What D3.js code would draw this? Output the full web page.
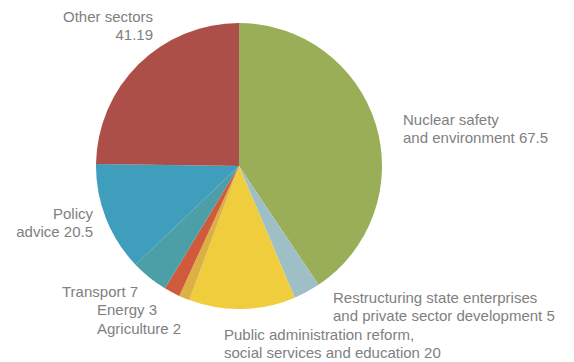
<!DOCTYPE html>
<html>
<head>
<meta charset="utf-8">
<script src="https://cdn.jsdelivr.net/npm/d3@7"></script>
<style>
  body { margin: 0; background: #fff; }
  text { font-family: "Liberation Sans", Arial, sans-serif; font-size: 15px; fill: #808080; }
</style>
</head>
<body>
<script>
// sectors clockwise from 12 o'clock
const sectors = ["Nuclear safety and environment", "Restructuring state enterprises and private sector development",
  "Public administration reform, social services and education", "Agriculture", "Energy", "Transport",
  "Policy advice", "Other sectors"];
const amounts = [67.5, 5, 20, 2, 3, 7, 20.5, 41.19];
const colors = ["#9aae58", "#9fbfc6", "#f0cd3c", "#dcb044", "#cf5a3c", "#4c9fa6", "#3e9ebb", "#ad4f49"];

// label lines: [text, x, y, anchor]
const labelLines = [
  ["Other sectors", 153, 22, "end"], ["41.19", 153, 40, "end"],
  ["Nuclear safety", 403, 125, "start"], ["and environment 67.5", 403, 143, "start"],
  ["Policy", 93, 219, "end"], ["advice 20.5", 93, 237, "end"],
  ["Transport 7", 62, 297, "start"], ["Energy 3", 97, 315, "start"], ["Agriculture 2", 97, 334, "start"],
  ["Restructuring state enterprises", 333, 303, "start"], ["and private sector development 5", 333, 321, "start"],
  ["Public administration reform,", 224, 340, "start"], ["social services and education 20", 224, 358, "start"]
];

const w = 574, h = 362;
const cx = 239, cy = 166, r = 143;

const svg = d3.select("body").append("svg").attr("width", w).attr("height", h);

const pie = d3.pie().sort(null).value(d => d);
const arc = d3.arc().innerRadius(0).outerRadius(r);

svg.append("g").attr("transform", "translate(" + cx + "," + cy + ")")
  .selectAll("path").data(pie(amounts)).enter().append("path")
  .attr("d", arc)
  .attr("fill", (d, i) => colors[i]);

svg.selectAll("text.lbl").data(labelLines).enter().append("text")
  .attr("class", "lbl")
  .attr("x", d => d[1]).attr("y", d => d[2])
  .attr("text-anchor", d => d[3])
  .text(d => d[0]);
</script>
</body>
</html>
